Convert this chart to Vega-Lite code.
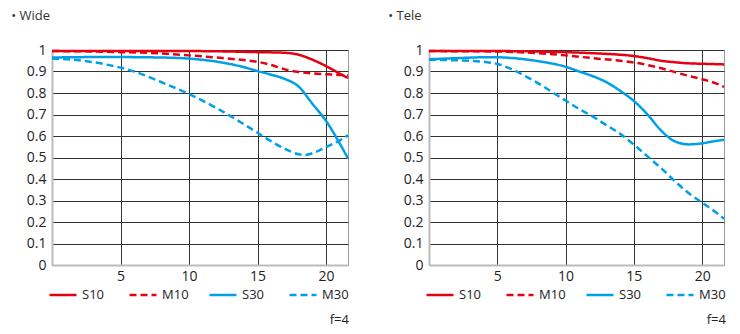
{
  "$schema": "https://vega.github.io/schema/vega-lite/v6.json",
  "background": "white",
  "padding": {"left": 10, "top": 9, "right": 5, "bottom": 5},
  "datasets": {
    "wide": [
      {"series": "S10", "x": 0, "y": 0.995}, {"series": "S10", "x": 5, "y": 0.995}, {"series": "S10", "x": 10, "y": 0.995}, {"series": "S10", "x": 13, "y": 0.993}, {"series": "S10", "x": 15, "y": 0.99}, {"series": "S10", "x": 16, "y": 0.989}, {"series": "S10", "x": 17, "y": 0.987}, {"series": "S10", "x": 18, "y": 0.978}, {"series": "S10", "x": 19, "y": 0.955}, {"series": "S10", "x": 20, "y": 0.925}, {"series": "S10", "x": 21, "y": 0.89}, {"series": "S10", "x": 21.6, "y": 0.87},
      {"series": "M10", "x": 0, "y": 0.995}, {"series": "M10", "x": 3, "y": 0.993}, {"series": "M10", "x": 5, "y": 0.99}, {"series": "M10", "x": 8, "y": 0.984}, {"series": "M10", "x": 10, "y": 0.975}, {"series": "M10", "x": 12, "y": 0.965}, {"series": "M10", "x": 14, "y": 0.953}, {"series": "M10", "x": 15, "y": 0.945}, {"series": "M10", "x": 16, "y": 0.93}, {"series": "M10", "x": 17, "y": 0.91}, {"series": "M10", "x": 18, "y": 0.898}, {"series": "M10", "x": 19, "y": 0.891}, {"series": "M10", "x": 20, "y": 0.887}, {"series": "M10", "x": 21, "y": 0.884}, {"series": "M10", "x": 21.6, "y": 0.882},
      {"series": "S30", "x": 0, "y": 0.965}, {"series": "S30", "x": 3, "y": 0.967}, {"series": "S30", "x": 5, "y": 0.967}, {"series": "S30", "x": 8, "y": 0.965}, {"series": "S30", "x": 10, "y": 0.96}, {"series": "S30", "x": 12, "y": 0.946}, {"series": "S30", "x": 14, "y": 0.92}, {"series": "S30", "x": 15, "y": 0.902}, {"series": "S30", "x": 16, "y": 0.885}, {"series": "S30", "x": 17, "y": 0.865}, {"series": "S30", "x": 18, "y": 0.83}, {"series": "S30", "x": 19, "y": 0.75}, {"series": "S30", "x": 20, "y": 0.67}, {"series": "S30", "x": 21, "y": 0.565}, {"series": "S30", "x": 21.6, "y": 0.495},
      {"series": "M30", "x": 0, "y": 0.96}, {"series": "M30", "x": 2, "y": 0.952}, {"series": "M30", "x": 4, "y": 0.932}, {"series": "M30", "x": 5, "y": 0.918}, {"series": "M30", "x": 6, "y": 0.9}, {"series": "M30", "x": 8, "y": 0.85}, {"series": "M30", "x": 10, "y": 0.795}, {"series": "M30", "x": 12, "y": 0.73}, {"series": "M30", "x": 14, "y": 0.655}, {"series": "M30", "x": 15, "y": 0.615}, {"series": "M30", "x": 16, "y": 0.575}, {"series": "M30", "x": 17, "y": 0.54}, {"series": "M30", "x": 18, "y": 0.515}, {"series": "M30", "x": 18.5, "y": 0.512}, {"series": "M30", "x": 19, "y": 0.52}, {"series": "M30", "x": 20, "y": 0.548}, {"series": "M30", "x": 21, "y": 0.58}, {"series": "M30", "x": 21.6, "y": 0.603}
    ],
    "tele": [
      {"series": "S10", "x": 0, "y": 0.995}, {"series": "S10", "x": 5, "y": 0.995}, {"series": "S10", "x": 8, "y": 0.993}, {"series": "S10", "x": 10, "y": 0.99}, {"series": "S10", "x": 12, "y": 0.985}, {"series": "S10", "x": 14, "y": 0.978}, {"series": "S10", "x": 15, "y": 0.972}, {"series": "S10", "x": 16, "y": 0.962}, {"series": "S10", "x": 17, "y": 0.95}, {"series": "S10", "x": 18, "y": 0.943}, {"series": "S10", "x": 19, "y": 0.938}, {"series": "S10", "x": 20, "y": 0.936}, {"series": "S10", "x": 21.6, "y": 0.933},
      {"series": "M10", "x": 0, "y": 0.995}, {"series": "M10", "x": 5, "y": 0.993}, {"series": "M10", "x": 8, "y": 0.985}, {"series": "M10", "x": 10, "y": 0.975}, {"series": "M10", "x": 12, "y": 0.962}, {"series": "M10", "x": 14, "y": 0.95}, {"series": "M10", "x": 15, "y": 0.942}, {"series": "M10", "x": 16, "y": 0.93}, {"series": "M10", "x": 17, "y": 0.915}, {"series": "M10", "x": 18, "y": 0.897}, {"series": "M10", "x": 19, "y": 0.88}, {"series": "M10", "x": 20, "y": 0.864}, {"series": "M10", "x": 21, "y": 0.845}, {"series": "M10", "x": 21.6, "y": 0.828},
      {"series": "S30", "x": 0, "y": 0.957}, {"series": "S30", "x": 2, "y": 0.962}, {"series": "S30", "x": 4, "y": 0.966}, {"series": "S30", "x": 5, "y": 0.966}, {"series": "S30", "x": 6, "y": 0.963}, {"series": "S30", "x": 8, "y": 0.948}, {"series": "S30", "x": 10, "y": 0.922}, {"series": "S30", "x": 11, "y": 0.9}, {"series": "S30", "x": 12, "y": 0.878}, {"series": "S30", "x": 13, "y": 0.85}, {"series": "S30", "x": 14, "y": 0.81}, {"series": "S30", "x": 15, "y": 0.763}, {"series": "S30", "x": 16, "y": 0.7}, {"series": "S30", "x": 17, "y": 0.625}, {"series": "S30", "x": 18, "y": 0.575}, {"series": "S30", "x": 19, "y": 0.561}, {"series": "S30", "x": 20, "y": 0.566}, {"series": "S30", "x": 21, "y": 0.577}, {"series": "S30", "x": 21.6, "y": 0.582},
      {"series": "M30", "x": 0, "y": 0.955}, {"series": "M30", "x": 2, "y": 0.952}, {"series": "M30", "x": 3, "y": 0.95}, {"series": "M30", "x": 4, "y": 0.945}, {"series": "M30", "x": 5, "y": 0.935}, {"series": "M30", "x": 6, "y": 0.912}, {"series": "M30", "x": 7, "y": 0.88}, {"series": "M30", "x": 8, "y": 0.845}, {"series": "M30", "x": 9, "y": 0.805}, {"series": "M30", "x": 10, "y": 0.765}, {"series": "M30", "x": 11, "y": 0.725}, {"series": "M30", "x": 12, "y": 0.69}, {"series": "M30", "x": 13, "y": 0.65}, {"series": "M30", "x": 14, "y": 0.61}, {"series": "M30", "x": 15, "y": 0.56}, {"series": "M30", "x": 16, "y": 0.505}, {"series": "M30", "x": 17, "y": 0.45}, {"series": "M30", "x": 18, "y": 0.39}, {"series": "M30", "x": 19, "y": 0.335}, {"series": "M30", "x": 20, "y": 0.29}, {"series": "M30", "x": 21, "y": 0.245}, {"series": "M30", "x": 21.6, "y": 0.215}
    ]
  },
  "hconcat": [
    {
      "title": {"text": "• Wide"},
      "width": 296,
      "height": 215,
      "data": {"name": "wide"},
      "mark": {"type": "line", "strokeWidth": 2.5, "interpolate": "monotone"},
      "encoding": {
        "x": {"field": "x", "type": "quantitative", "scale": {"domain": [0, 21.6], "nice": false}, "axis": {"values": [5, 10, 15, 20], "title": null}},
        "y": {"field": "y", "type": "quantitative", "scale": {"domain": [0, 1], "nice": false}, "axis": {"values": [0, 0.1, 0.2, 0.3, 0.4, 0.5, 0.6, 0.7, 0.8, 0.9, 1], "title": null, "format": "~g"}},
        "color": {"field": "series", "type": "nominal", "title": "f=4", "scale": {"domain": ["S10", "M10", "S30", "M30"], "range": ["#e60012", "#e60012", "#00a0e9", "#00a0e9"]}},
        "strokeDash": {"field": "series", "type": "nominal", "title": "f=4", "scale": {"domain": ["S10", "M10", "S30", "M30"], "range": [[1, 0], [7, 4], [1, 0], [7, 4]]}}
      }
    },
    {
      "title": {"text": "• Tele"},
      "width": 295,
      "height": 215,
      "data": {"name": "tele"},
      "mark": {"type": "line", "strokeWidth": 2.5, "interpolate": "monotone"},
      "encoding": {
        "x": {"field": "x", "type": "quantitative", "scale": {"domain": [0, 21.6], "nice": false}, "axis": {"values": [5, 10, 15, 20], "title": null}},
        "y": {"field": "y", "type": "quantitative", "scale": {"domain": [0, 1], "nice": false}, "axis": {"values": [0, 0.1, 0.2, 0.3, 0.4, 0.5, 0.6, 0.7, 0.8, 0.9, 1], "title": null, "format": "~g"}},
        "color": {"field": "series", "type": "nominal", "title": "f=4", "scale": {"domain": ["S10", "M10", "S30", "M30"], "range": ["#e60012", "#e60012", "#00a0e9", "#00a0e9"]}},
        "strokeDash": {"field": "series", "type": "nominal", "title": "f=4", "scale": {"domain": ["S10", "M10", "S30", "M30"], "range": [[1, 0], [7, 4], [1, 0], [7, 4]]}}
      }
    }
  ],
  "spacing": 33,
  "resolve": {
    "scale": {"color": "independent", "strokeDash": "independent"},
    "legend": {"color": "independent", "strokeDash": "independent"}
  },
  "config": {
    "font": "Open Sans",
    "view": {"stroke": "#9a9a9a", "strokeWidth": 1},
    "title": {"anchor": "start", "frame": "bounds", "dx": -15, "fontSize": 13, "fontWeight": "normal", "color": "#333333", "offset": 20, "font": "Open Sans"},
    "axis": {
      "grid": true,
      "gridColor": {"condition": {"test": "datum.value === 0", "value": "#bbbbbb"}, "value": "#333333"},
      "gridWidth": 1,
      "gridOpacity": 1,
      "ticks": false,
      "domainColor": "#bbbbbb",
      "domainWidth": 2,
      "labelFontSize": 14,
      "labelColor": "#222222",
      "labelFont": "Open Sans"
    },
    "axisX": {"labelPadding": 4},
    "axisY": {"labelPadding": 6},
    "legend": {
      "orient": "bottom",
      "direction": "horizontal",
      "columns": 4,
      "gridAlign": "all",
      "columnPadding": 15,
      "symbolType": "stroke",
      "symbolSize": 729,
      "symbolStrokeWidth": 2.5,
      "symbolOffset": -4,
      "labelFontSize": 13,
      "labelColor": "#222222",
      "labelOffset": 4,
      "titleOrient": "bottom",
      "titleAnchor": "end",
      "titleFontWeight": "normal",
      "titleFontSize": 13,
      "titleColor": "#222222",
      "titlePadding": 12,
      "offset": -3,
      "padding": 0
    }
  }
}
